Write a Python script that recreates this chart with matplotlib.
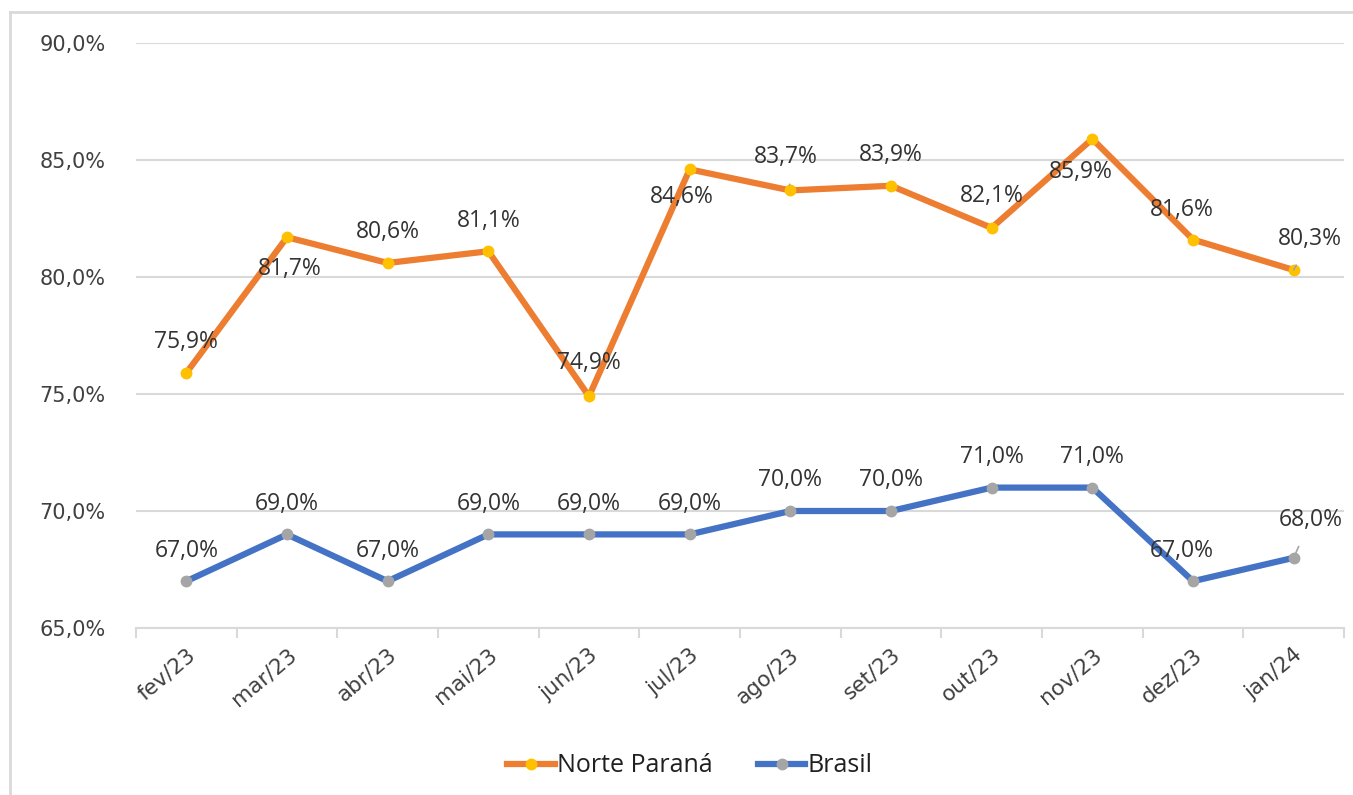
import matplotlib
matplotlib.use("Agg")
import matplotlib.pyplot as plt
from matplotlib.lines import Line2D

months = ["fev/23", "mar/23", "abr/23", "mai/23", "jun/23", "jul/23",
          "ago/23", "set/23", "out/23", "nov/23", "dez/23", "jan/24"]
norte = [75.9, 81.7, 80.6, 81.1, 74.9, 84.6, 83.7, 83.9, 82.1, 85.9, 81.6, 80.3]
brasil = [67.0, 69.0, 67.0, 69.0, 69.0, 69.0, 70.0, 70.0, 71.0, 71.0, 67.0, 68.0]
yticks = [65, 70, 75, 80, 85, 90]

# label offsets in points (dx, dy)
norte_off = [(0, 22), (2, -23), (0, 22), (0, 22), (0, 24), (-6, -20),
             (-3, 24), (0, 22), (0, 23), (-8, -24), (-8, 21), (12, 22)]
brasil_off = [(0, 22), (0, 22), (0, 22), (0, 22), (0, 22), (0, 22),
              (0, 22), (0, 22), (0, 22), (0, 22), (-8, 22), (12, 27)]
norte_leader = [False]*6 + [True] + [False]*4 + [True]
brasil_leader = [False]*11 + [True]

W, H = 1353, 795
fig = plt.figure(figsize=(W/100, H/100), dpi=100)
ax = fig.add_axes([136/W, 1-628/H, (1344-136)/W, (628-43)/H])

x = list(range(len(months)))
ORANGE = "#ED7D31"
BLUE = "#4472C4"
ax.plot(x, norte, color=ORANGE, lw=4.5, marker="o", ms=7.5,
        mfc="#FFC000", mec="#FFC000", zorder=3, solid_joinstyle="miter")
ax.plot(x, brasil, color=BLUE, lw=4.5, marker="o", ms=7.5,
        mfc="#A5A5A5", mec="#A5A5A5", zorder=3, solid_joinstyle="miter")

ax.set_xlim(-0.5, len(months)-0.5)
ax.set_ylim(65, 90)
ax.set_yticks(yticks)
ax.set_yticklabels([f"{v:.1f}%".replace(".", ",") for v in yticks],
                   fontsize=15, color="#404040", family="DejaVu Sans")
ax.yaxis.set_tick_params(length=0, pad=22)
ax.grid(axis="y", color="#D9D9D9", lw=1.5)
ax.set_axisbelow(True)
for s in ["top", "right", "left"]:
    ax.spines[s].set_visible(False)
ax.spines["bottom"].set_color("#D9D9D9")
ax.spines["bottom"].set_linewidth(1.5)

ax.set_xticks(x)
ax.set_xticklabels(months, rotation=40, ha="right", rotation_mode="anchor",
                   fontsize=15.5, color="#404040", family="DejaVu Sans")
ax.xaxis.set_tick_params(length=0, pad=12)
ax.set_xticks([i - 0.5 for i in range(len(months)+1)], minor=True)
ax.xaxis.set_tick_params(which="minor", length=7, color="#D9D9D9", width=1.5)

def fmt(v):
    return f"{v:.1f}%".replace(".", ",")

for vals, offs, leads in [(norte, norte_off, norte_leader), (brasil, brasil_off, brasil_leader)]:
    for i, (v, (dx, dy), ld) in enumerate(zip(vals, offs, leads)):
        kw = dict(xy=(i, v), xytext=(dx, dy), textcoords="offset points",
                  ha="center", va="center", fontsize=16.5, color="#333333",
                  family="Open Sans", zorder=4)
        if ld:
            kw["arrowprops"] = dict(arrowstyle="-", color="#A5A5A5", lw=1.2,
                                    shrinkA=9, shrinkB=4)
        ax.annotate(fmt(v), **kw)

handles = [Line2D([], [], color=ORANGE, lw=4.5, marker="o", ms=7.5, mfc="#FFC000", mec="#FFC000"),
           Line2D([], [], color=BLUE, lw=4.5, marker="o", ms=7.5, mfc="#A5A5A5", mec="#A5A5A5")]
fig.legend(handles, ["Norte Paraná", "Brasil"], loc="center",
           bbox_to_anchor=(690/W, 1-766/H), ncol=2, frameon=False,
           prop={"family": "Open Sans", "size": 18}, handlelength=1.9,
           handletextpad=0.1, columnspacing=1.8, labelcolor="#202020")

# figure border (top & left)
fig.add_artist(Line2D([10/W, 10/W], [0, 1-12/H], color="#D9D9D9", lw=2, transform=fig.transFigure))
fig.add_artist(Line2D([10/W, 1], [1-12/H, 1-12/H], color="#D9D9D9", lw=2, transform=fig.transFigure))

fig.savefig("out.png", dpi=100)
